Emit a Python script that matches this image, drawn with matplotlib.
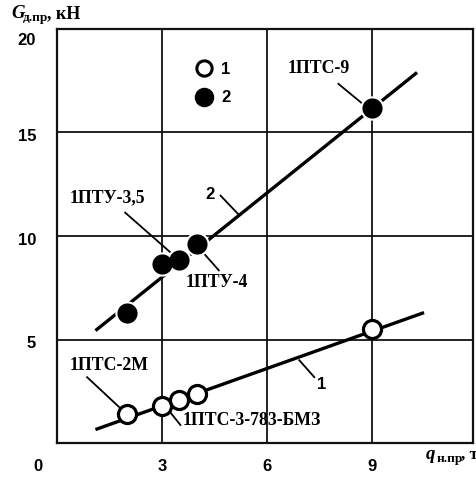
import matplotlib
matplotlib.use('Agg')
import matplotlib.pyplot as plt
from matplotlib.lines import Line2D

# series 1 (open circles) and 2 (filled circles)
s1_x = [2.0, 3.0, 3.5, 4.0, 9.0]
s1_y = [1.4, 1.8, 2.1, 2.35, 5.5]
s2_x = [2.0, 3.0, 3.5, 4.0, 9.0]
s2_y = [6.3, 8.65, 8.85, 9.6, 16.2]

# fitted lines
line1_x = [1.1, 10.5]
line1_y = [0.65, 6.3]
line2_x = [1.1, 10.3]
line2_y = [5.43, 17.9]

xticks = [3, 6, 9]
yticks = [5, 10, 15, 20]

W, H = 477, 478
fig = plt.figure(figsize=(W / 100, H / 100), dpi=100)
ax = fig.add_axes([57 / W, 1 - 443 / H, (473 - 57) / W, (443 - 29) / H])
ax.set_xlim(0, 11.9)
ax.set_ylim(0, 20)
ax.set_xticks([])
ax.set_yticks([])
for s in ax.spines.values():
    s.set_linewidth(1.6)
    s.set_color('#111111')

for xv in xticks:
    ax.axvline(xv, color='#111111', lw=1.3, zorder=1)
for yv in yticks[:-1]:
    ax.axhline(yv, color='#111111', lw=1.3, zorder=1)

sans = 'Liberation Sans'
serif = 'Liberation Serif'

# tick labels
for yv in yticks:
    off = 0.55 if yv == 20 else 0.2
    ax.text(-0.6, yv - off, str(yv), ha='right', va='center', fontsize=12,
            fontweight='bold', family=sans, clip_on=False)
for xv in [0] + xticks:
    ax.text(xv - (0.55 if xv == 0 else 0), -1.15, str(xv), ha='center', va='center',
            fontsize=12, fontweight='bold', family=sans, clip_on=False)

# lines
ax.plot(line1_x, line1_y, color='black', lw=2.4, solid_capstyle='butt', zorder=2)
ax.plot(line2_x, line2_y, color='black', lw=2.4, solid_capstyle='butt', zorder=2)

# markers
ax.plot(s1_x, s1_y, 'o', ms=13, mfc='white', mec='black', mew=2.3, zorder=4)
ax.plot(s2_x, s2_y, 'o', ms=17.5, mfc='white', mec='white', mew=0, zorder=3)
ax.plot(s2_x, s2_y, 'o', ms=14.5, mfc='black', mec='black', mew=0, zorder=4)

# legend
h1 = Line2D([], [], ls='none', marker='o', ms=11, mfc='white', mec='black', mew=2.2)
h2 = Line2D([], [], ls='none', marker='o', ms=13, mfc='black', mec='black')
leg = ax.legend([h1, h2], ['1', '2'], loc='upper left', bbox_to_anchor=(0.298, 0.957),
                frameon=False, handlelength=1.0, handletextpad=0.5, labelspacing=0.82,
                prop={'family': sans, 'weight': 'bold', 'size': 12})

# annotations
ann = dict(fontsize=12.8, fontweight='bold', family=serif, ha='center', va='center')
lbl = dict(fontsize=12, fontweight='bold', family=sans, ha='center', va='center')
leaders = [
    ((8.05, 17.35), (8.71, 16.43)),
    ((1.95, 11.13), (3.25, 9.2)),
    ((4.68, 11.95), (5.17, 11.08)),
    ((4.2, 9.16), (4.63, 8.34)),
    ((0.86, 3.18), (1.87, 1.59)),
    ((3.19, 1.59), (3.53, 0.87)),
    ((6.93, 4.0), (7.36, 3.18)),
]
for (a, b) in leaders:
    ax.plot([a[0], b[0]], [a[1], b[1]], color='black', lw=1.3, zorder=2)

ax.text(7.5, 18.1, '1ПТС-9', **ann)
ax.text(1.44, 11.85, '1ПТУ-3,5', **ann)
ax.text(4.37, 12.0, '2', **lbl)
ax.text(4.57, 7.75, '1ПТУ-4', **ann)
ax.text(1.5, 3.75, '1ПТС-2М', **ann)
ax.text(5.57, 1.1, '1ПТС-3-783-БМЗ', **ann)
ax.text(7.58, 2.85, '1', **lbl)

# axis titles
fig.text(11 / W, 1 - 18 / H, 'G', fontsize=13.5, fontweight='bold', style='italic',
         family=serif, ha='left', va='baseline')
fig.text(23 / W, 1 - 21 / H, 'д.пр', fontsize=9.5, fontweight='bold',
         family=serif, ha='left', va='baseline')
fig.text(47 / W, 1 - 18 / H, ', кН', fontsize=13, fontweight='bold',
         family=serif, ha='left', va='baseline')

fig.text(426 / W, 1 - 459 / H, 'q', fontsize=13.5, fontweight='bold', style='italic',
         family=serif, ha='left', va='baseline')
fig.text(437 / W, 1 - 462 / H, 'н.пр', fontsize=9.5, fontweight='bold',
         family=serif, ha='left', va='baseline')
fig.text(461 / W, 1 - 459 / H, ', т', fontsize=12.5, fontweight='bold',
         family=serif, ha='left', va='baseline')

fig.savefig('out.png', dpi=100)
